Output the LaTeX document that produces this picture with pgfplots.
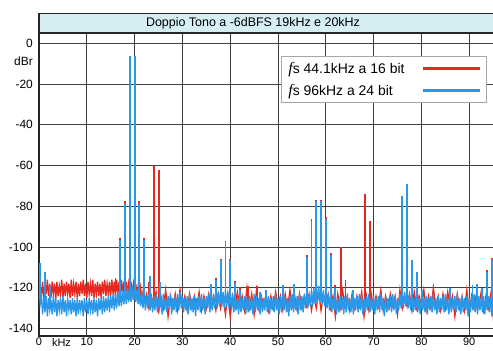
\documentclass[border=0pt]{standalone}
\usepackage{fontspec}
\setmainfont{Liberation Sans}
\newfontfamily\seriffont{Liberation Serif}
\usepackage{pgfplots}
\pgfplotsset{compat=1.18}
\definecolor{redc}{HTML}{E8281E}
\definecolor{bluec}{HTML}{2A98E8}
\definecolor{band}{HTML}{D4EEF2}
\begin{document}
\begin{tikzpicture}[x=1bp,y=1bp]
\fill[band] (39,317) rectangle (500,336.6);
\draw[black!85, line width=1.2bp] (38.4,336.6) -- (500,336.6);
\draw[black!85, line width=1.2bp] (39,316) -- (39,337.2);
\node[font=\fontsize{12.5}{14}\selectfont] at (253,326.8) {Doppio Tono a -6dBFS 19kHz e 20kHz};
\begin{axis}[
 at={(39bp,14bp)}, anchor=south west,
 scale only axis, width=458.9bp, height=303bp,
 xmin=0, xmax=96, ymin=-143.6, ymax=5,
 xtick={0,10,...,90}, xticklabels={0,10,20,30,40,50,60,70,80,90},
 ytick={-140,-120,-100,-80,-60,-40,-20,0}, yticklabels={-140,-120,-100,-80,-60,-40,-20,0},
 extra x ticks={4.7}, extra x tick labels={kHz},
 extra y ticks={-9}, extra y tick labels={dBr},
 extra tick style={grid=none},
 grid=major, major grid style={draw=black!75, line width=0.9bp},
 major tick length=0pt,
 axis line style={draw=black!85, line width=1.2bp},
 tick label style={font=\fontsize{12}{14}\selectfont, inner sep=0pt},
 xticklabel style={font=\fontsize{11}{12}\selectfont, anchor=north, yshift=-2bp},
 yticklabel style={anchor=east, xshift=-6bp},
 unbounded coords=jump,
 legend style={at={(0.5274,0.9243)}, anchor=north west, draw=black!35, line width=0.8bp, fill=white,
   font=\fontsize{14}{16}\selectfont, inner xsep=5bp, inner ysep=4bp, row sep=5bp, column sep=15bp},
 legend cell align=left,
 legend plot pos=right,
 legend image code/.code={\draw[#1,line width=2.6bp] (0bp,0bp) -- (57bp,0bp);},
]
% red noise floor (44.1 kHz / 16 bit)
\addplot[redc, line width=1.3bp] coordinates {
(0.25,-119) (0.50,-124) (0.75,-117) (1.00,-125) (1.25,-118) (1.50,-123) (1.75,-116) (2.00,-124)
(2.25,-118) (2.50,-125) (2.75,-117) (3.00,-123) (3.25,-118) (3.50,-126) (3.75,-117) (4.00,-124)
(4.25,-119) (4.50,-123) (4.75,-116) (5.00,-125) (5.25,-118) (5.50,-124) (5.75,-117) (6.00,-123)
(6.25,-118) (6.50,-125) (6.75,-116) (7.00,-124) (7.25,-118) (7.50,-123) (7.75,-117) (8.00,-125)
(8.25,-118) (8.50,-124) (8.75,-117) (9.00,-123) (9.25,-116) (9.50,-124) (9.75,-118) (10.00,-125)
(10.25,-117) (10.50,-123) (10.75,-118) (11.00,-124) (11.25,-116) (11.50,-125) (11.75,-118) (12.00,-123)
(12.25,-117) (12.50,-124) (12.75,-118) (13.00,-125) (13.25,-117) (13.50,-123) (13.75,-116) (14.00,-124)
(14.25,-118) (14.50,-123) (14.75,-117) (15.00,-124) (15.25,-116) (15.50,-123) (15.75,-117) (16.00,-124)
(16.25,-116) (16.50,-123) (16.75,-117) (17.00,-124) (17.25,-116) (17.50,-123) (17.75,-117) (18.00,-124)
(18.25,-117) (18.50,-123) (18.75,-118) (19.00,-124) (19.25,-117) (19.50,-123) (19.75,-118) (20.00,-124)
(20.25,-118) (20.50,-124) (20.75,-119) (21.00,-125) (21.25,-120) (21.50,-126) (21.75,-122) (22.00,-127)
(22.5,-123) (23.0,-130) (23.5,-124) (24.0,-129) (24.5,-122) (25.0,-131) (25.5,-124) (26.0,-130)
(26.5,-121) (27.0,-134) (27.5,-124) (28.0,-130) (28.5,-123) (29.0,-131) (29.5,-121) (30.0,-129)
(30.5,-124) (31.0,-131) (31.5,-123) (32.0,-130) (32.5,-124) (33.0,-129) (33.5,-122) (34.0,-131)
(34.5,-124) (35.0,-130) (35.5,-123) (36.0,-129) (36.5,-124) (37.0,-131) (37.5,-123) (38.0,-130)
(38.5,-124) (39.0,-133) (39.5,-123) (40.0,-134) (40.5,-124) (41.0,-130) (41.5,-122) (42.0,-129)
(42.5,-124) (43.0,-131) (43.5,-120) (44.0,-130) (44.5,-123) (45.0,-133) (45.5,-121) (46.0,-130)
(46.5,-124) (47.0,-129) (47.5,-123) (48.0,-131) (48.5,-124) (49.0,-130) (49.5,-122) (50.0,-129)
(50.5,-124) (51.0,-131) (51.5,-123) (52.0,-130) (52.5,-121) (53.0,-129) (53.5,-124) (54.0,-131)
(54.5,-123) (55.0,-130) (55.5,-124) (56.0,-129) (56.5,-123) (57.0,-131) (57.5,-124) (58.0,-130)
(58.5,-122) (59.0,-131) (59.5,-124) (60.0,-129) (60.5,-123) (61.0,-130) (61.5,-124) (62.0,-134)
(62.5,-123) (63.0,-130) (63.5,-121) (64.0,-129) (64.5,-124) (65.0,-131) (65.5,-123) (66.0,-130)
(66.5,-124) (67.0,-129) (67.5,-122) (68.0,-134) (68.5,-124) (69.0,-131) (69.5,-123) (70.0,-130)
(70.5,-124) (71.0,-129) (71.5,-121) (72.0,-131) (72.5,-124) (73.0,-130) (73.5,-123) (74.0,-129)
(74.5,-124) (75.0,-133) (75.5,-121) (76.0,-130) (76.5,-124) (77.0,-129) (77.5,-123) (78.0,-131)
(78.5,-122) (79.0,-130) (79.5,-124) (80.0,-129) (80.5,-121) (81.0,-131) (81.5,-124) (82.0,-130)
(82.5,-120) (83.0,-129) (83.5,-124) (84.0,-131) (84.5,-123) (85.0,-130) (85.5,-122) (86.0,-129)
(86.5,-124) (87.0,-134) (87.5,-123) (88.0,-130) (88.5,-124) (89.0,-131) (89.5,-121) (90.0,-133)
(90.5,-124) (91.0,-130) (91.5,-123) (92.0,-129) (92.5,-122) (93.0,-131) (93.5,-124) (94.0,-130)
(94.5,-123) (95.0,-134) (95.5,-124) (96.0,-130)
};
\addlegendentry{{\seriffont\itshape\fontsize{16}{16}\selectfont f}s 44.1kHz a 16 bit}
% red spurs
\addplot[redc, line width=1.8bp, forget plot] coordinates {
(16.0,-124) (16.0,-115) (16.0,nan)
(17.0,-124) (17.0,-95.5) (17.0,nan)
(18.0,-124) (18.0,-77.5) (18.0,nan)
(19.0,-124) (19.0,-6.5) (19.0,nan)
(20.0,-124) (20.0,-6.5) (20.0,nan)
(21.0,-124) (21.0,-77.5) (21.0,nan)
(22.0,-126) (22.0,-95.5) (22.0,nan)
(23.0,-126) (23.0,-117) (23.0,nan)
(24.1,-126) (24.1,-60) (24.1,nan)
(25.1,-126) (25.1,-62) (25.1,nan)
(29.5,-126) (29.5,-121) (29.5,nan)
(37.0,-126) (37.0,-115) (37.0,nan)
(38.0,-126) (38.0,-106) (38.0,nan)
(39.0,-126) (39.0,-97) (39.0,nan)
(40.0,-126) (40.0,-106) (40.0,nan)
(41.0,-126) (41.0,-116.5) (41.0,nan)
(42.0,-126) (42.0,-119.5) (42.0,nan)
(43.8,-126) (43.8,-119) (43.8,nan)
(45.6,-126) (45.6,-119) (45.6,nan)
(56.0,-126) (56.0,-104) (56.0,nan)
(57.0,-126) (57.0,-86) (57.0,nan)
(58.0,-126) (58.0,-77) (58.0,nan)
(59.0,-126) (59.0,-77) (59.0,nan)
(60.0,-126) (60.0,-85) (60.0,nan)
(61.0,-126) (61.0,-103) (61.0,nan)
(62.0,-126) (62.0,-118.5) (62.0,nan)
(63.1,-126) (63.1,-100) (63.1,nan)
(64.1,-126) (64.1,-116) (64.1,nan)
(68.2,-126) (68.2,-74) (68.2,nan)
(69.2,-126) (69.2,-87) (69.2,nan)
(86.0,-126) (86.0,-120) (86.0,nan)
(93.8,-126) (93.8,-111) (93.8,nan)
(94.7,-126) (94.7,-105.5) (94.7,nan)
};
% blue noise floor (96 kHz / 24 bit)
\addplot[bluec, line width=1.3bp] coordinates {
(0.00,-118) (0.25,-128) (0.50,-124) (0.75,-133) (1.00,-125) (1.25,-132) (1.50,-124) (1.75,-134)
(2.00,-125) (2.25,-131) (2.50,-126) (2.75,-133) (3.00,-124) (3.25,-132) (3.50,-125) (3.75,-134)
(4.00,-126) (4.25,-131) (4.50,-125) (4.75,-133) (5.00,-124) (5.25,-132) (5.50,-126) (5.75,-134)
(6.00,-125) (6.25,-131) (6.50,-126) (6.75,-133) (7.00,-125) (7.25,-132) (7.50,-126) (7.75,-134)
(8.00,-125) (8.25,-133) (8.50,-126) (8.75,-131) (9.00,-126) (9.25,-134) (9.50,-125) (9.75,-132)
(10.00,-126) (10.25,-133) (10.50,-125) (10.75,-131) (11.00,-126) (11.25,-133) (11.50,-125) (11.75,-132)
(12.00,-126) (12.25,-134) (12.50,-125) (12.75,-131) (13.00,-125) (13.25,-133) (13.50,-124) (13.75,-132)
(14.00,-125) (14.25,-131) (14.50,-124) (14.75,-132) (15.00,-124) (15.25,-130) (15.50,-123) (15.75,-131)
(16.00,-123) (16.25,-130) (16.50,-122) (16.75,-129) (17.00,-122) (17.25,-129) (17.50,-121) (17.75,-128)
(18.00,-121) (18.25,-128) (18.50,-120) (18.75,-127) (19.00,-119) (19.25,-127) (19.50,-119) (19.75,-126)
(20.00,-120) (20.25,-127) (20.50,-121) (20.75,-128) (21.00,-122) (21.25,-129) (21.50,-122) (21.75,-130)
(22.00,-123) (22.25,-131) (22.50,-124) (22.75,-130) (23.00,-123) (23.25,-131) (23.50,-124) (23.75,-132)
(24.00,-124) (24.25,-131) (24.50,-123) (24.75,-132) (25.00,-125) (25.25,-130) (25.50,-124) (25.75,-133)
(26.00,-123) (26.25,-131) (26.50,-125) (26.75,-132) (27.00,-124) (27.25,-130) (27.50,-123) (27.75,-133)
(28.00,-125) (28.25,-131) (28.50,-124) (28.75,-132) (29.00,-123) (29.25,-131) (29.50,-122) (29.75,-130)
(30.00,-124) (30.25,-132) (30.50,-125) (30.75,-131) (31.00,-124) (31.25,-133) (31.50,-123) (31.75,-131)
(32.00,-125) (32.25,-132) (32.50,-124) (32.75,-134) (33.00,-125) (33.25,-131) (33.50,-124) (33.75,-132)
(34.00,-123) (34.25,-131) (34.50,-125) (34.75,-133) (35.00,-124) (35.25,-130) (35.50,-123) (35.75,-132)
(36.00,-124) (36.25,-131) (36.50,-123) (36.75,-130) (37.00,-122) (37.25,-130) (37.50,-122) (37.75,-129)
(38.00,-121) (38.25,-129) (38.50,-122) (38.75,-130) (39.00,-121) (39.25,-129) (39.50,-122) (39.75,-130)
(40.00,-122) (40.25,-131) (40.50,-123) (40.75,-132) (41.00,-124) (41.25,-131) (41.50,-125) (41.75,-133)
(42.00,-124) (42.25,-132) (42.50,-125) (42.75,-131) (43.00,-124) (43.25,-133) (43.50,-125) (43.75,-132)
(44.00,-124) (44.25,-131) (44.50,-125) (44.75,-133) (45.00,-123) (45.25,-132) (45.50,-124) (45.75,-131)
(46.00,-125) (46.25,-133) (46.50,-124) (46.75,-132) (47.00,-125) (47.25,-131) (47.50,-123) (47.75,-132)
(48.00,-124) (48.25,-133) (48.50,-125) (48.75,-131) (49.00,-124) (49.25,-132) (49.50,-123) (49.75,-131)
(50.00,-125) (50.25,-133) (50.50,-124) (50.75,-132) (51.00,-123) (51.25,-131) (51.50,-124) (51.75,-132)
(52.00,-125) (52.25,-134) (52.50,-124) (52.75,-131) (53.00,-123) (53.25,-132) (53.50,-125) (53.75,-131)
(54.00,-124) (54.25,-133) (54.50,-123) (54.75,-131) (55.00,-124) (55.25,-132) (55.50,-123) (55.75,-130)
(56.00,-122) (56.25,-130) (56.50,-123) (56.75,-129) (57.00,-121) (57.25,-129) (57.50,-120) (57.75,-128)
(58.00,-120) (58.25,-127) (58.50,-119) (58.75,-127) (59.00,-120) (59.25,-128) (59.50,-121) (59.75,-129)
(60.00,-122) (60.25,-130) (60.50,-123) (60.75,-131) (61.00,-124) (61.25,-132) (61.50,-125) (61.75,-131)
(62.00,-124) (62.25,-133) (62.50,-125) (62.75,-132) (63.00,-124) (63.25,-131) (63.50,-125) (63.75,-133)
(64.00,-124) (64.25,-132) (64.50,-123) (64.75,-131) (65.00,-125) (65.25,-132) (65.50,-124) (65.75,-133)
(66.00,-125) (66.25,-131) (66.50,-124) (66.75,-132) (67.00,-123) (67.25,-131) (67.50,-124) (67.75,-133)
(68.00,-125) (68.25,-132) (68.50,-124) (68.75,-131) (69.00,-123) (69.25,-132) (69.50,-125) (69.75,-131)
(70.00,-124) (70.25,-133) (70.50,-125) (70.75,-131) (71.00,-124) (71.25,-132) (71.50,-123) (71.75,-131)
(72.00,-125) (72.25,-134) (72.50,-124) (72.75,-132) (73.00,-125) (73.25,-131) (73.50,-124) (73.75,-132)
(74.00,-123) (74.25,-131) (74.50,-124) (74.75,-133) (75.00,-125) (75.25,-131) (75.50,-123) (75.75,-130)
(76.00,-122) (76.25,-130) (76.50,-122) (76.75,-129) (77.00,-122) (77.25,-130) (77.50,-123) (77.75,-131)
(78.00,-124) (78.25,-132) (78.50,-125) (78.75,-131) (79.00,-124) (79.25,-132) (79.50,-125) (79.75,-133)
(80.00,-124) (80.25,-131) (80.50,-125) (80.75,-132) (81.00,-124) (81.25,-133) (81.50,-125) (81.75,-131)
(82.00,-124) (82.25,-132) (82.50,-123) (82.75,-131) (83.00,-125) (83.25,-133) (83.50,-124) (83.75,-132)
(84.00,-125) (84.25,-131) (84.50,-124) (84.75,-132) (85.00,-123) (85.25,-131) (85.50,-125) (85.75,-133)
(86.00,-124) (86.25,-132) (86.50,-125) (86.75,-131) (87.00,-124) (87.25,-132) (87.50,-123) (87.75,-131)
(88.00,-125) (88.25,-133) (88.50,-124) (88.75,-132) (89.00,-125) (89.25,-131) (89.50,-124) (89.75,-134)
(90.00,-125) (90.25,-132) (90.50,-124) (90.75,-131) (91.00,-123) (91.25,-132) (91.50,-125) (91.75,-133)
(92.00,-124) (92.25,-131) (92.50,-125) (92.75,-132) (93.00,-124) (93.25,-133) (93.50,-125) (93.75,-131)
(94.00,-124) (94.25,-132) (94.50,-125) (94.75,-134) (95.00,-124) (95.25,-132) (95.50,-125) (95.75,-131)
(96.00,-124)
};
\addlegendentry{{\seriffont\itshape\fontsize{16}{16}\selectfont f}s 96kHz a 24 bit}
% blue spurs
\addplot[bluec, line width=1.8bp, forget plot] coordinates {
(0.2,-126) (0.2,-108) (0.2,nan)
(1.2,-128) (1.2,-112) (1.2,nan)
(2.3,-128) (2.3,-119) (2.3,nan)
(17.0,-126) (17.0,-96.5) (17.0,nan)
(18.0,-126) (18.0,-79) (18.0,nan)
(19.0,-126) (19.0,-6.5) (19.0,nan)
(20.0,-126) (20.0,-6.5) (20.0,nan)
(21.0,-126) (21.0,-79) (21.0,nan)
(22.0,-126) (22.0,-96.5) (22.0,nan)
(23.2,-127) (23.2,-114) (23.2,nan)
(25.3,-127) (25.3,-117) (25.3,nan)
(36.0,-127) (36.0,-118) (36.0,nan)
(37.0,-127) (37.0,-116) (37.0,nan)
(38.0,-127) (38.0,-106.5) (38.0,nan)
(39.0,-127) (39.0,-97.5) (39.0,nan)
(40.0,-127) (40.0,-106.5) (40.0,nan)
(41.0,-127) (41.0,-117.5) (41.0,nan)
(42.0,-127) (42.0,-121) (42.0,nan)
(46.2,-127) (46.2,-122) (46.2,nan)
(47.5,-127) (47.5,-121) (47.5,nan)
(51.0,-127) (51.0,-118.5) (51.0,nan)
(53.3,-127) (53.3,-118) (53.3,nan)
(56.0,-127) (56.0,-105) (56.0,nan)
(57.0,-127) (57.0,-87) (57.0,nan)
(58.0,-127) (58.0,-77.5) (58.0,nan)
(59.0,-127) (59.0,-77.5) (59.0,nan)
(60.0,-127) (60.0,-86) (60.0,nan)
(61.0,-127) (61.0,-104) (61.0,nan)
(62.0,-127) (62.0,-120) (62.0,nan)
(65.7,-127) (65.7,-121) (65.7,nan)
(76.0,-127) (76.0,-75) (76.0,nan)
(77.0,-127) (77.0,-69) (77.0,nan)
(78.0,-127) (78.0,-106.5) (78.0,nan)
(79.0,-127) (79.0,-112) (79.0,nan)
(80.1,-127) (80.1,-121) (80.1,nan)
(86.0,-127) (86.0,-120) (86.0,nan)
(90.7,-127) (90.7,-118.5) (90.7,nan)
(91.7,-127) (91.7,-118) (91.7,nan)
(92.6,-127) (92.6,-120) (92.6,nan)
(93.8,-127) (93.8,-112) (93.8,nan)
(94.7,-127) (94.7,-106) (94.7,nan)
};
\end{axis}
\pgfresetboundingbox
\path[use as bounding box] (0,0) rectangle (493,350);
\end{tikzpicture}
\end{document}
